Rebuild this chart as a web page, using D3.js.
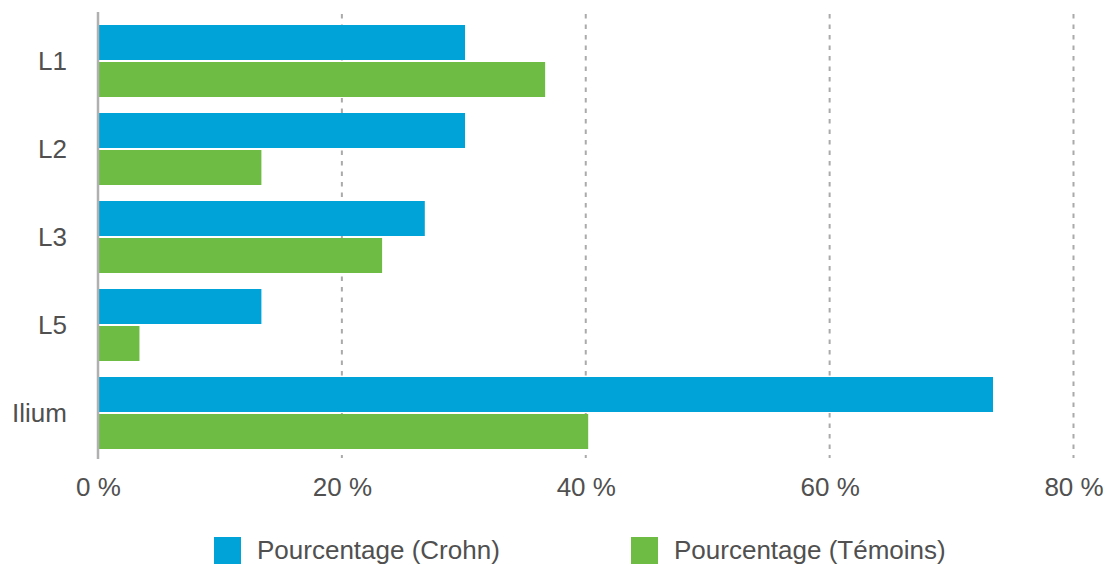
<!DOCTYPE html>
<html>
<head>
<meta charset="utf-8">
<script src="https://cdn.jsdelivr.net/npm/d3@7"></script>
<style>
  html, body { margin: 0; padding: 0; background: #fff; }
  svg { display: block; font-family: "Liberation Sans", Arial, Helvetica, sans-serif; }
</style>
</head>
<body>
<svg id="chart" width="1114" height="565"></svg>
<script>
const categories = ["L1", "L2", "L3", "L5", "Ilium"];
const seriesNames = ["Pourcentage (Crohn)", "Pourcentage (Témoins)"];
const crohnValues = [30.1, 30.1, 26.8, 13.4, 73.4];
const temoinsValues = [36.67, 13.4, 23.3, 3.4, 40.2];
const xTicks = [0, 20, 40, 60, 80];
const colors = ["#00a3d8", "#6fbc45"];

const svg = d3.select("#chart");
const textColor = "#505050";
const fontSize = 26;

const x = d3.scaleLinear().domain([0, 80]).range([98, 1073.5]);
const y = d3.scaleBand().domain(categories).range([17, 457]).padding(0);
const yInner = d3.scaleBand().domain(seriesNames).range([8, 80]).paddingInner(2 / 37);

const data = categories.map((c, i) => ({ cat: c, vals: [crohnValues[i], temoinsValues[i]] }));

// gridlines
svg.append("g").selectAll("line")
  .data(xTicks.filter(t => t > 0))
  .join("line")
  .attr("x1", d => x(d)).attr("x2", d => x(d))
  .attr("y1", 14).attr("y2", 458)
  .attr("stroke", "#aaaaaa")
  .attr("stroke-width", 2)
  .attr("stroke-dasharray", "4.5,6");

// bars
const groups = svg.append("g").selectAll("g")
  .data(data)
  .join("g")
  .attr("transform", d => `translate(0,${y(d.cat)})`);

groups.selectAll("rect")
  .data(d => d.vals.map((v, j) => ({ v, s: seriesNames[j], j })))
  .join("rect")
  .attr("x", x(0))
  .attr("y", d => yInner(d.s))
  .attr("width", d => x(d.v) - x(0))
  .attr("height", yInner.bandwidth())
  .attr("fill", d => colors[d.j]);

// y axis line
svg.append("line")
  .attr("x1", x(0)).attr("x2", x(0))
  .attr("y1", 12).attr("y2", 459)
  .attr("stroke", "#b0b0b0")
  .attr("stroke-width", 2.5);

// y labels
const yAxis = d3.axisLeft(y).tickSize(0).tickPadding(0);
const yG = svg.append("g").attr("transform", "translate(67,0)").call(yAxis);
yG.select(".domain").remove();
yG.selectAll("text")
  .attr("font-size", fontSize)
  .attr("font-family", null)
  .attr("fill", textColor)
  .attr("dy", "0.36em");

// x labels
const xAxis = d3.axisBottom(x).tickValues(xTicks).tickSize(0).tickPadding(0).tickFormat(d => d + " %");
const xG = svg.append("g").attr("transform", "translate(0,477.5)").call(xAxis);
xG.select(".domain").remove();
xG.selectAll("text")
  .attr("font-size", fontSize)
  .attr("font-family", null)
  .attr("fill", textColor)
  .attr("dy", "0.72em");

// legend
const legendX = [214, 631];
const legend = svg.append("g").selectAll("g")
  .data(seriesNames)
  .join("g")
  .attr("transform", (d, i) => `translate(${legendX[i]},537)`);
legend.append("rect")
  .attr("width", 27).attr("height", 27)
  .attr("fill", (d, i) => colors[i]);
legend.append("text")
  .attr("x", 43).attr("y", 13.5)
  .attr("dy", "0.34em")
  .attr("font-size", fontSize)
  .attr("fill", textColor)
  .text(d => d);
</script>
</body>
</html>
